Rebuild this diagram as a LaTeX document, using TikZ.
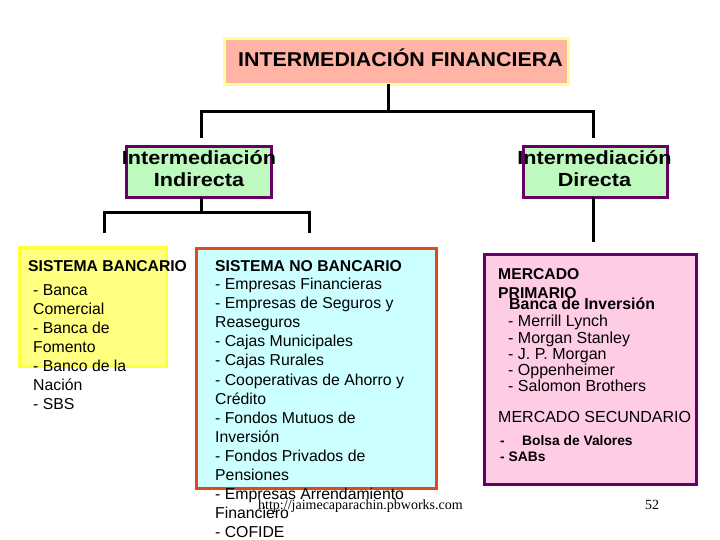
\documentclass[tikz,border=0pt]{standalone}
\usepackage{fontspec}
\setmainfont{Liberation Sans}
\newfontfamily\serifft{Liberation Serif}
\usepackage{graphicx}
\definecolor{salmonfill}{RGB}{255,180,166}
\definecolor{topborder}{RGB}{255,255,153}
\definecolor{greenfill}{RGB}{190,250,190}
\definecolor{purpleline}{RGB}{102,0,102}
\definecolor{yellowfill}{RGB}{255,255,128}
\definecolor{yellowline}{RGB}{255,255,60}
\definecolor{cyanfill}{RGB}{204,255,255}
\definecolor{redline}{RGB}{224,72,32}
\definecolor{pinkfill}{RGB}{255,204,230}
\tikzset{
  boxbase/.style={draw, line width=3pt, inner sep=0pt, outer sep=0pt},
  conn/.style={draw=black, line width=3pt, line join=miter},
  itemtxt/.style={inner sep=0pt, anchor=base west, font=\fontsize{15.8}{19}\selectfont},
  titletxt/.style={inner sep=0pt, anchor=base west, font=\fontsize{15.7}{19}\selectfont\bfseries},
  pinktxt/.style={inner sep=0pt, anchor=base west, font=\fontsize{16}{19}\selectfont},
  interm/.style={inner sep=0pt, anchor=base, font=\fontsize{19}{22}\selectfont\bfseries},
}
\begin{document}
\begin{tikzpicture}[x=1pt,y=-1pt]
\useasboundingbox (0,0) rectangle (720,540);
\fill[white] (0,0) rectangle (720,540);

% top box
\node[boxbase, draw=topborder, fill=salmonfill, minimum width=344pt, minimum height=46pt] (topbox) at (396.5,61.5) {};
\node[inner sep=0pt, anchor=base, font=\fontsize{20}{24}\selectfont\bfseries] (toptxt) at (400.5,66.7) {\scalebox{1.07}[1]{INTERMEDIACIÓN FINANCIERA}};

% second level boxes
\node[boxbase, draw=purpleline, fill=greenfill, minimum width=145pt, minimum height=51pt] (indbox) at (199,172) {};
\node[boxbase, draw=purpleline, fill=greenfill, minimum width=144pt, minimum height=51pt] (dirbox) at (595.5,172) {};
\node[interm] (indt1) at (199,165) {\scalebox{1.14}[1]{Intermediación}};
\node[interm] (indt2) at (199,187) {\scalebox{1.14}[1]{Indirecta}};
\node[interm] (dirt1) at (594.5,165) {\scalebox{1.14}[1]{Intermediación}};
\node[interm] (dirt2) at (594.5,187) {\scalebox{1.14}[1]{Directa}};

% connectors top
\coordinate (jt) at (388,112);
\coordinate (jl) at (201,112);
\coordinate (jr) at (593,112);
\coordinate (el) at (201,138);
\coordinate (er) at (593,138);
\draw[conn] (topbox.south -| jt) -- (jt);
\draw[conn] (el) -- (jl) -- (jr) -- (er);

% connectors lower left
\coordinate (kt) at (201,213);
\coordinate (kl) at (104,213);
\coordinate (kr) at (309,213);
\coordinate (fl) at (104,233);
\coordinate (fr) at (309,233);
\draw[conn] (indbox.south -| kt) -- (kt);
\draw[conn] (fl) -- (kl) -- (kr) -- (fr);

% connector lower right
\coordinate (fd) at (593,242);
\draw[conn] (dirbox.south -| fd) -- (fd);

% third level boxes
\node[boxbase, draw=yellowline, fill=yellowfill, minimum width=147pt, minimum height=119pt] (bancbox) at (93,307) {};
\node[boxbase, draw=redline, fill=cyanfill, minimum width=240pt, minimum height=240pt] (nobancbox) at (316.5,368.5) {};
\node[boxbase, draw=purpleline, fill=pinkfill, minimum width=212pt, minimum height=230pt] (mercbox) at (590.5,369.5) {};

% sistema bancario
\node[titletxt] (bt) at (28,271.7) {SISTEMA BANCARIO};
\foreach \t [count=\i from 0] in {{- Banca},{Comercial},{- Banca de},{Fomento},{- Banco de la},{Nación},{- SBS}}
  \node[itemtxt, name=bi\i] at (33,{295.5+19*\i}) {\t};

% sistema no bancario
\node[titletxt] (nt) at (215,271.7) {SISTEMA NO BANCARIO};
\foreach \t [count=\i from 0] in {{- Empresas Financieras},{- Empresas de Seguros y},{Reaseguros},{- Cajas Municipales},{- Cajas Rurales},{- Cooperativas de Ahorro y},{Crédito},{- Fondos Mutuos de},{Inversión},{- Fondos Privados de},{Pensiones},{- Empresas Arrendamiento},{Financiero},{- COFIDE}}
  \node[itemtxt, name=ni\i] at (215,{289.5+19.1*\i}) {\t};

% mercados
\node[titletxt] (mp1) at (498,279.5) {MERCADO};
\node[titletxt] (mp2) at (498,298) {PRIMARIO};
\node[titletxt, font=\fontsize{15.9}{19}\selectfont\bfseries] (bi) at (509,309) {Banca de Inversión};
\foreach \t [count=\i from 0] in {{- Merrill Lynch},{- Morgan Stanley},{- J. P. Morgan},{- Oppenheimer},{- Salomon Brothers}}
  \node[pinktxt, name=mi\i] at (508,{326.7+16.3*\i}) {\t};
\node[pinktxt] (ms) at (498,422.7) {MERCADO SECUNDARIO};
\node[inner sep=0pt, anchor=base west, font=\fontsize{13.8}{16}\selectfont\bfseries] (bv) at (500,445) {-\hspace{17.4pt}Bolsa de Valores};
\node[inner sep=0pt, anchor=base west, font=\fontsize{13.8}{16}\selectfont\bfseries] (sab) at (500,461.7) {- SABs};

% footer
\node[inner sep=0pt, anchor=base west, font=\serifft\fontsize{14}{16}\selectfont] (url) at (258,509) {http://jaimecaparachin.pbworks.com};
\node[inner sep=0pt, anchor=base, font=\serifft\fontsize{14}{16}\selectfont] (pg) at (652,509) {52};
\end{tikzpicture}
\end{document}
